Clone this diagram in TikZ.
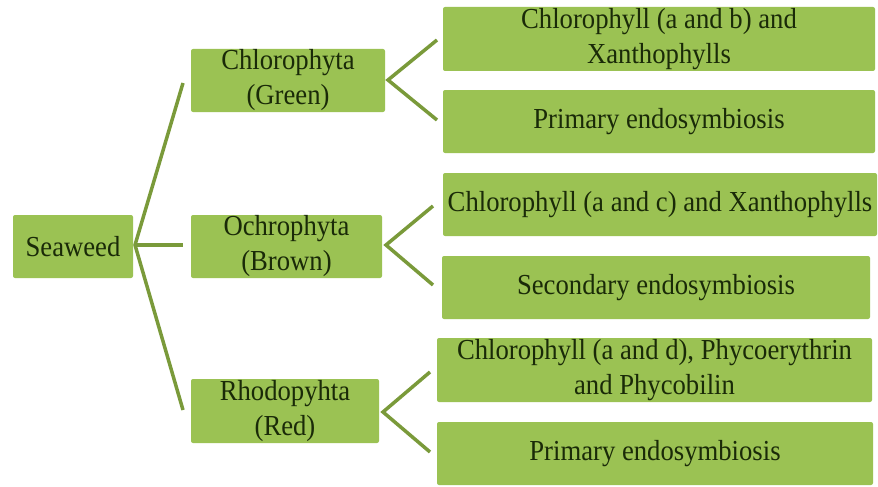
\documentclass[tikz,border=0pt]{standalone}
\usepackage{fontspec}
\setmainfont{Liberation Serif}[FakeStretch=0.92]
\definecolor{boxfill}{HTML}{9BC253}
\definecolor{linecol}{HTML}{7A9A3A}
\definecolor{txtcol}{HTML}{1A2A08}
\tikzset{
  gbox/.style={draw=none, fill=boxfill, rounded corners=2pt, inner sep=0pt, outer sep=0pt,
    align=center, text=txtcol, font=\fontsize{29}{35}\selectfont},
  conn/.style={draw=linecol, line width=3.5pt, line join=miter}
}
\begin{document}
\begin{tikzpicture}[x=1pt,y=-1pt]
\useasboundingbox (0,0) rectangle (878,487);
% left box
\node[gbox, minimum width=120pt, minimum height=63pt] (sea) at (73,246.5) {Seaweed};
% middle boxes
\node[gbox, minimum width=194pt, minimum height=63pt] (chl) at (288,80.5) {Chlorophyta\\(Green)};
\node[gbox, minimum width=191pt, minimum height=63pt] (och) at (286.5,246.5) {Ochrophyta\\(Brown)};
\node[gbox, minimum width=188pt, minimum height=64pt] (rho) at (285,411) {Rhodopyhta\\(Red)};
% right boxes
\node[gbox, minimum width=432pt, minimum height=64pt] (r1) at (659,39) {Chlorophyll (a and b) and\\Xanthophylls};
\node[gbox, minimum width=432pt, minimum height=63pt] (r2) at (659,121.5) {Primary endosymbiosis};
\node[gbox, minimum width=434pt, minimum height=63pt] (r3) at (660,204.5) {Chlorophyll (a and c) and Xanthophylls};
\node[gbox, minimum width=428pt, minimum height=63pt] (r4) at (656,287.5) {Secondary endosymbiosis};
\node[gbox, minimum width=435pt, minimum height=64pt] (r5) at (654.5,370) {Chlorophyll (a and d), Phycoerythrin\\and Phycobilin};
\node[gbox, minimum width=436pt, minimum height=63pt] (r6) at (655,453.5) {Primary endosymbiosis};
% connector points
\coordinate (v0) at (135,245);
\coordinate (e0a) at (183,83);
\coordinate (e0b) at (183,245);
\coordinate (e0c) at (183,410);
\coordinate (v1) at (388,80);
\coordinate (e1a) at (437,40);
\coordinate (e1b) at (437,120);
\coordinate (v2) at (386,245);
\coordinate (e2a) at (433,206);
\coordinate (e2b) at (433,285);
\coordinate (v3) at (383,412);
\coordinate (e3a) at (430,372);
\coordinate (e3b) at (430,452);
% connectors
\draw[conn] (e0a) -- (v0) -- (e0c);
\draw[conn] (v0) -- (e0b);
\draw[conn] (e1a) -- (v1) -- (e1b);
\draw[conn] (e2a) -- (v2) -- (e2b);
\draw[conn] (e3a) -- (v3) -- (e3b);
\end{tikzpicture}
\end{document}
